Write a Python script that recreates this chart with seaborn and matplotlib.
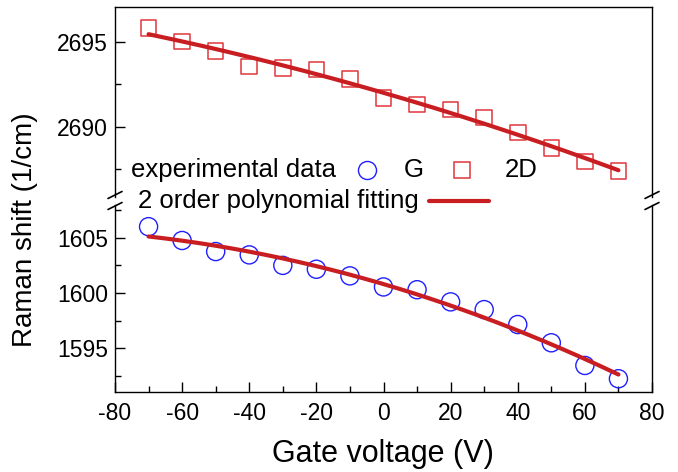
import numpy as np
import pandas as pd
import matplotlib
matplotlib.use("Agg")
import matplotlib.pyplot as plt
from matplotlib.lines import Line2D
from matplotlib.ticker import MultipleLocator
import seaborn as sns

# ---- data ----
gate_voltage = [-70, -60, -50, -40, -30, -20, -10, 0, 10, 20, 30, 40, 50, 60, 70]
raman_2d = [2695.8, 2695.0, 2694.45, 2693.55, 2693.45, 2693.35, 2692.8, 2691.7,
            2691.3, 2691.0, 2690.55, 2689.65, 2688.75, 2687.95, 2687.4]
raman_g = [1606.0, 1604.75, 1603.75, 1603.45, 1602.5, 1602.15, 1601.55, 1600.55,
           1600.3, 1599.2, 1598.5, 1597.15, 1595.5, 1593.45, 1592.25]
x_ticks = [-80, -60, -40, -20, 0, 20, 40, 60, 80]
top_ticks = [2690, 2695]
bottom_ticks = [1595, 1600, 1605]

sns.set_theme(style="ticks")
plt.rcParams['font.family'] = ['Liberation Sans', 'DejaVu Sans']
plt.rcParams['axes.unicode_minus'] = False
plt.rcParams['text.color'] = 'black'
plt.rcParams['xtick.color'] = 'black'
plt.rcParams['ytick.color'] = 'black'
plt.rcParams['xtick.labelcolor'] = 'black'
plt.rcParams['ytick.labelcolor'] = 'black'

W, H = 678, 472
fig = plt.figure(figsize=(W / 100, H / 100), dpi=100)

def fx(px):
    return px / W

def fy(py):
    return 1 - py / H

L, R = 115, 652
ax1 = fig.add_axes([fx(L), fy(197), fx(R - L), (197 - 7) / H])
ax2 = fig.add_axes([fx(L), fy(392), fx(R - L), (392 - 205) / H])

df = pd.DataFrame({"V": gate_voltage, "D2": raman_2d, "G": raman_g})

line_c = "#C81E22"
sq_c = "#E0373A"
circ_c = "#1F1FFF"

# polynomial fits (2nd order) of the data
xs = np.linspace(min(gate_voltage), max(gate_voltage), 200)
fit_2d = np.polyval(np.polyfit(gate_voltage, raman_2d, 2), xs)
fit_g = np.polyval(np.polyfit(gate_voltage, raman_g, 2), xs)
fit_df = pd.DataFrame({"V": xs, "D2": fit_2d, "G": fit_g})

sns.scatterplot(data=df, x="V", y="D2", ax=ax1, marker="s", s=125,
                facecolor="none", edgecolor=sq_c, linewidth=1.1, zorder=3)
sns.lineplot(data=fit_df, x="V", y="D2", ax=ax1, color=line_c, linewidth=3.0,
             zorder=4)

sns.scatterplot(data=df, x="V", y="G", ax=ax2, marker="o", s=170,
                facecolor="none", edgecolor=circ_c, linewidth=1.0, zorder=3)
sns.lineplot(data=fit_df, x="V", y="G", ax=ax2, color=line_c, linewidth=3.0,
             zorder=4)

for ax in (ax1, ax2):
    ax.set_xlim(-80, 80)
    ax.set_xlabel("")
    ax.set_ylabel("")
    for s in ax.spines.values():
        s.set_linewidth(1.0)
        s.set_color("black")
    ax.yaxis.set_minor_locator(MultipleLocator(2.5))
    ax.tick_params(axis="y", which="major", direction="in", length=7, width=1,
                   labelsize=16.5, pad=5, right=False, colors="black")
    ax.tick_params(axis="y", which="minor", direction="in", length=4, width=1,
                   right=False, colors="black")

ax1.set_ylim(2685.86, 2697.04)
ax1.set_yticks(top_ticks)
ax1.spines["bottom"].set_visible(False)
ax1.tick_params(axis="x", which="both", bottom=False, labelbottom=False)
ax1.xaxis.set_minor_locator(MultipleLocator(10))
ax1.tick_params(axis="x", which="minor", bottom=False)

ax2.set_ylim(1591.05, 1607.96)
ax2.set_yticks(bottom_ticks)
ax2.spines["top"].set_visible(False)
ax2.set_xticks(x_ticks)
ax2.xaxis.set_minor_locator(MultipleLocator(10))
ax2.tick_params(axis="x", which="major", direction="in", length=7, width=1,
                labelsize=16.5, pad=7, top=False, colors="black")
ax2.tick_params(axis="x", which="minor", direction="in", length=4, width=1,
                top=False, colors="black")

# axis labels
fig.text(fx(383), fy(462), "Gate voltage (V)", ha="center", va="baseline",
         fontsize=22, color="black")
fig.text(fx(25), fy(230), "Raman shift (1/cm)", ha="center", va="center",
         rotation=90, fontsize=20, color="black")

# break marks
for xc in (L, R):
    for yc in (195, 206):
        fig.add_artist(Line2D([fx(xc - 7), fx(xc + 7)], [fy(yc + 3.5), fy(yc - 3.5)],
                              color="black", linewidth=1.2, transform=fig.transFigure,
                              clip_on=False))

# custom legend
fs = 18.5
fig.text(fx(131), fy(177), "experimental data", ha="left", va="baseline", fontsize=fs)
fig.add_artist(Line2D([fx(367)], [fy(170)], marker="o", markersize=13,
                      markerfacecolor="none", markeredgecolor=circ_c,
                      markeredgewidth=1.0, linestyle="none",
                      transform=fig.transFigure))
fig.text(fx(414), fy(177), "G", ha="center", va="baseline", fontsize=fs)
fig.add_artist(Line2D([fx(462)], [fy(170)], marker="s", markersize=11,
                      markerfacecolor="none", markeredgecolor=sq_c,
                      markeredgewidth=1.1, linestyle="none",
                      transform=fig.transFigure))
fig.text(fx(521), fy(177), "2D", ha="center", va="baseline", fontsize=fs)
fig.text(fx(138), fy(208), "2 order polynomial fitting", ha="left", va="baseline",
         fontsize=fs)
fig.add_artist(Line2D([fx(429), fx(489)], [fy(200.5), fy(200.5)], color=line_c,
                      linewidth=3.0, solid_capstyle="round",
                      transform=fig.transFigure))

fig.savefig("out.png", dpi=100)
